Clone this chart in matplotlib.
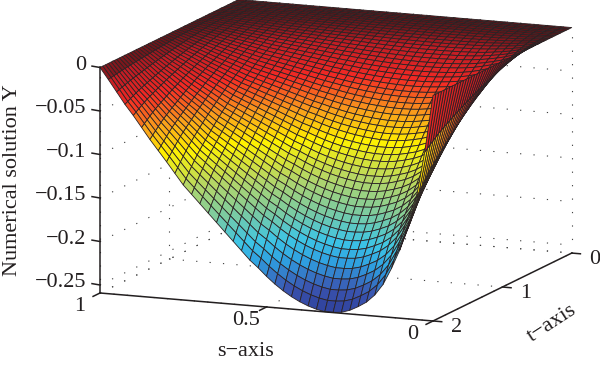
import numpy as np
import matplotlib
matplotlib.use("Agg")
import matplotlib.pyplot as plt
from matplotlib.colors import LinearSegmentedColormap, Normalize
from mpl_toolkits.mplot3d import proj3d

# values
s_values = np.linspace(0, 1, 41)
t_values = np.linspace(0, 2, 51)
y_at_t2 = [0, -.066, -.119, -.155, -.181, -.203, -.222, -.235, -.244, -.250, -.255,
           -.258, -.259, -.259, -.257, -.254, -.250, -.245, -.239, -.232, -.224,
           -.215, -.207, -.197, -.187, -.177, -.167, -.157, -.147, -.137, -.127,
           -.1145, -.102, -.090, -.078, -.065, -.052, -.040, -.0265, -.013, 0]
t_fraction = [0, .0002, .0007, .0017, .003, .006, .0095, .014, .019, .025, .032,
              .040, .049, .059, .070, .082, .095, .108, .123, .138, .154,
              .171, .189, .207, .227, .247, .268, .290, .311, .334, .357,
              .382, .407, .432, .459, .486, .512, .541, .570, .599, .630,
              .661, .692, .724, .757, .790, .829, .870, .913, .956, 1]
z_ticks = [0, -0.05, -0.1, -0.15, -0.2, -0.25]
z_labels = ["0", "\u22120.05", "\u22120.1", "\u22120.15", "\u22120.2", "\u22120.25"]
s_ticks = [1, 0.5, 0]
s_labels = ["1", "0.5", "0"]
t_ticks = [2, 1, 0]
t_labels = ["2", "1", "0"]
z_floor = -0.2592

plt.rcParams['font.family'] = ['Liberation Serif', 'DejaVu Serif']
W, H = 600, 365
fig = plt.figure(figsize=(W / 100, H / 100), dpi=100)
ax = fig.add_axes([0, 0, 1, 1], projection='3d', computed_zorder=False)
ax.set_proj_type('ortho')
ax.view_init(elev=11.7, azim=112.5)
ax.set_box_aspect((360, 362, 230))
ax.set_xlim(0, 1); ax.set_ylim(0, 2); ax.set_zlim(z_floor, 0)
ax.set_axis_off()
ax.patch.set_alpha(0)


def to_px(s, t, z):
    ax.apply_aspect()
    x, y, _ = proj3d.proj_transform(s, t, z, ax.get_proj())
    return ax.transData.transform((x, y))


# fit the axes box so that two corners fall where they do in the reference
S0 = 500.0
ax.set_position([0, 0, S0 / W, S0 / H])
a = to_px(1, 2, z_floor) / S0
b = to_px(0, 0, 0) / S0
ta = np.array([100, H - 293.0])
tb = np.array([572, H - 28.0])
S1 = np.linalg.norm(tb - ta) / np.linalg.norm(b - a)
lb = ta - S1 * a
ax.set_position([lb[0] / W, lb[1] / H, S1 / W, S1 / H])

jetlike = LinearSegmentedColormap.from_list("printjet", [
    (0.00, "#2f3f9a"), (0.09, "#3a55b0"), (0.19, "#2f9fe0"), (0.27, "#3cc4e6"),
    (0.38, "#7ccba0"), (0.50, "#b4d668"), (0.635, "#fff200"), (0.74, "#f9a01c"),
    (0.85, "#f42a24"), (0.95, "#c01c24"), (1.00, "#601418")])
norm = Normalize(-0.259, 0)

T, Sg = np.meshgrid(t_values, s_values)
Z = np.outer(y_at_t2, t_fraction)
ax.plot_surface(Sg, T, Z, rstride=1, cstride=1, cmap=jetlike, norm=norm,
                edgecolor="#2b2224", linewidth=0.6, antialiased=True,
                shade=False, zorder=5)

dot = dict(color="#444444", lw=0.8, ls=(0, (1.1, 11)), zorder=1)
zs_grid = z_ticks + [z_floor]
for z in zs_grid:
    ax.plot([1, 1], [2, 0], [z, z], **dot)
    ax.plot([1, 0], [0, 0], [z, z], **dot)
for t in t_ticks:
    ax.plot([1, 1], [t, t], [z_floor, 0], **dot)
    ax.plot([1, 0], [t, t], [z_floor, z_floor], **dot)
for s in s_ticks:
    ax.plot([s, s], [0, 0], [z_floor, 0], **dot)
    ax.plot([s, s], [2, 0], [z_floor, z_floor], **dot)

axis = dict(color="#231f20", lw=1.1, zorder=8)
ax.plot([1, 1], [2, 2], [z_floor, 0], **axis)
ax.plot([1, 0], [2, 2], [z_floor, z_floor], **axis)
ax.plot([0, 0], [2, 0], [z_floor, z_floor], **axis)

fs = 16
tc = "#231f20"


def label(s, t, z, txt, ha):
    p = to_px(s, t, z)
    fig.text(p[0] / W, p[1] / H, txt, ha=ha, va='center', fontsize=fs, color=tc)


for z, lab in zip(z_ticks, z_labels):
    ax.plot([1, 1.024], [2, 2], [z, z + 0.0008], **axis)
    label(1.042, 2, z + 0.001, lab, 'right')
for s, lab in zip(s_ticks, s_labels):
    ax.plot([s, s], [2, 2.1], [z_floor, z_floor], **axis)
    label(s, 2.3, z_floor - 0.004, lab, 'center')
for t, lab in zip(t_ticks, t_labels):
    ax.plot([0, -0.026], [t, t], [z_floor, z_floor], **axis)
    label(-0.07, t, z_floor - 0.005, lab, 'center')

fig.text(13 / W, 1 - 180 / H, "Numerical solution Y", rotation=90, ha='center', va='center',
         fontsize=fs, color=tc)
fig.text(245 / W, 1 - 351 / H, "s\u2212axis", ha='center', va='center', fontsize=fs, color=tc)
fig.text(552 / W, 1 - 323 / H, "t\u2212axis", rotation=33, ha='center', va='center',
         rotation_mode='anchor', fontsize=fs, color=tc)

fig.savefig("out.png", dpi=100)
